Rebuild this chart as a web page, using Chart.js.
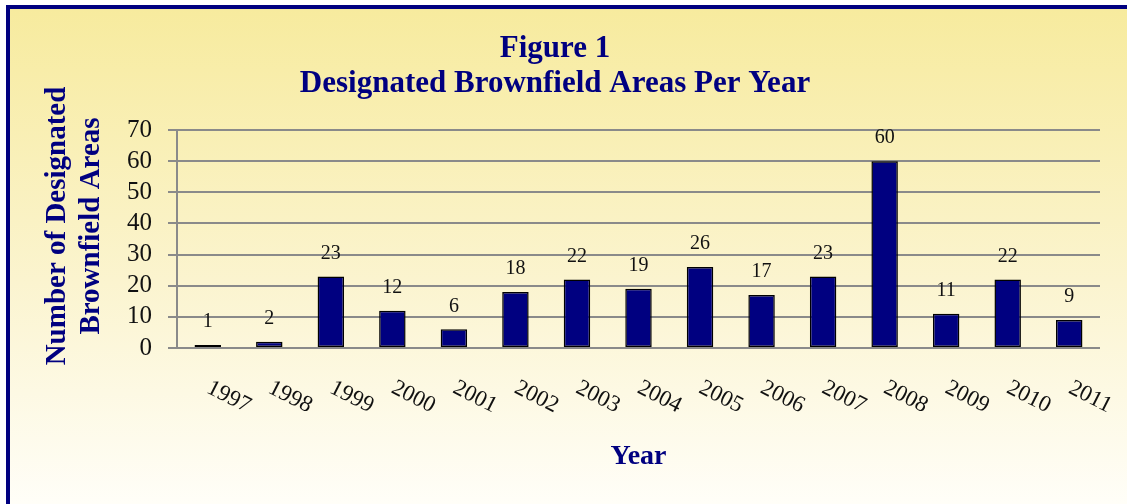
<!DOCTYPE html>
<html>
<head>
<meta charset="utf-8">
<script src="https://cdn.jsdelivr.net/npm/chart.js@4.4.1/dist/chart.umd.min.js"></script>
<style>
  html, body { margin: 0; padding: 0; background: #fff; }
  canvas { display: block; }
</style>
</head>
<body>
<canvas id="chart" width="1127" height="504"></canvas>
<script>
const years = ["1997","1998","1999","2000","2001","2002","2003","2004","2005","2006","2007","2008","2009","2010","2011"];
const designated = [1, 2, 23, 12, 6, 18, 22, 19, 26, 17, 23, 60, 11, 22, 9];
const yTicks = [0, 10, 20, 30, 40, 50, 60, 70];
const yTitle = ["Number of Designated", "Brownfield Areas"];

const navy = "#000080";
const serif = "'Liberation Serif', 'DejaVu Serif', serif";

// background panel with the navy frame on the left and top
const panel = {
  id: "panel",
  beforeDraw(chart) {
    const ctx = chart.ctx;
    ctx.save();
    ctx.fillStyle = "#fff";
    ctx.fillRect(0, 0, chart.width, chart.height);
    const g = ctx.createLinearGradient(0, 9, 0, chart.height);
    g.addColorStop(0, "#f7eb9e");
    g.addColorStop(0.55, "#fbf4cf");
    g.addColorStop(1, "#fffef8");
    ctx.fillStyle = g;
    ctx.fillRect(10, 9, chart.width - 10, chart.height - 9);
    ctx.fillStyle = navy;
    ctx.fillRect(6, 5, chart.width - 6, 4);
    ctx.fillRect(6, 5, 4, chart.height - 5);
    ctx.restore();
  }
};

// value labels above bars, slanted year labels, two-line y title
const labels = {
  id: "labels",
  afterDatasetsDraw(chart) {
    const ctx = chart.ctx;
    const meta = chart.getDatasetMeta(0);
    const xs = chart.scales.x;
    ctx.save();
    ctx.fillStyle = "#111";
    ctx.font = "20px " + serif;
    ctx.textAlign = "center";
    ctx.textBaseline = "middle";
    meta.data.forEach((bar, i) => {
      ctx.fillText(designated[i], bar.x, bar.y - 23);
    });
    ctx.font = "23px " + serif;
    years.forEach((y, i) => {
      const x = xs.getPixelForTick(i);
      ctx.save();
      ctx.translate(x + 21, xs.top + 49);
      ctx.rotate(27 * Math.PI / 180);
      ctx.fillText(y, 0, 0);
      ctx.restore();
    });
    ctx.fillStyle = navy;
    ctx.font = "bold 29px " + serif;
    yTitle.forEach((t, i) => {
      ctx.save();
      ctx.translate(58 + i * 34, 226);
      ctx.rotate(-Math.PI / 2);
      ctx.fillText(t, 0, 0);
      ctx.restore();
    });
    ctx.restore();
  }
};

new Chart(document.getElementById("chart"), {
  type: "bar",
  data: {
    labels: years,
    datasets: [{
      data: designated,
      backgroundColor: navy,
      borderColor: "#000",
      borderWidth: 1.5,
      borderSkipped: false,
      categoryPercentage: 1,
      barPercentage: 0.43
    }]
  },
  options: {
    responsive: false,
    animation: false,
    layout: { padding: { left: 10, top: 9, right: 27, bottom: 0 } },
    plugins: {
      legend: { display: false },
      tooltip: { enabled: false },
      title: {
        display: true,
        text: ["Figure 1", "Designated Brownfield Areas Per Year"],
        color: navy,
        font: { family: serif, size: 31, weight: "bold", lineHeight: 1.13 },
        padding: { top: 22, bottom: 29 }
      }
    },
    scales: {
      x: {
        grid: { display: false },
        border: { display: false },
        ticks: { display: false },
        title: {
          display: true,
          text: "Year",
          color: navy,
          font: { family: serif, size: 28, weight: "bold", lineHeight: 1.2 },
          padding: { top: 0, bottom: 30 }
        },
        afterFit(s) { s.height = 156; }
      },
      y: {
        min: 0,
        max: 70,
        afterBuildTicks(s) { s.ticks = yTicks.map(v => ({ value: v })); },
        grid: { color: "#8a8a8a", lineWidth: 2, tickLength: 9 },
        border: { color: "#8a8a8a", width: 2 },
        ticks: {
          color: "#111",
          font: { family: serif, size: 25 },
          padding: 16,
          autoSkip: false
        },
        afterFit(s) { s.width = 167; }
      }
    }
  },
  plugins: [panel, labels]
});
</script>
</body>
</html>
